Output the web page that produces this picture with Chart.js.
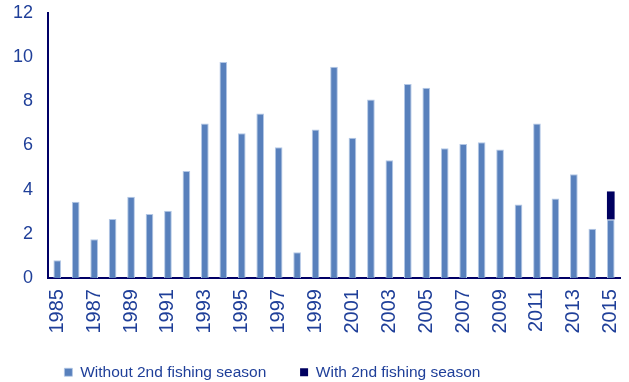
<!DOCTYPE html>
<html>
<head>
<meta charset="utf-8">
<script src="https://cdn.jsdelivr.net/npm/chart.js@4"></script>
<style>
  html, body { margin: 0; padding: 0; background: #fff; }
  #wrap { width: 629px; height: 382px; }
</style>
</head>
<body>
<div id="wrap"><canvas id="fishChart"></canvas></div>
<script>
const years = ['1985', '1986', '1987', '1988', '1989', '1990', '1991', '1992', '1993', '1994',
  '1995', '1996', '1997', '1998', '1999', '2000', '2001', '2002', '2003', '2004',
  '2005', '2006', '2007', '2008', '2009', '2010', '2011', '2012', '2013', '2014', '2015'];
const withoutSecond = [0.8, 3.45, 1.75, 2.67, 3.68, 2.9, 3.05, 4.85, 7.0, 9.78,
  6.55, 7.45, 5.92, 1.17, 6.72, 9.57, 6.35, 8.08, 5.33, 8.78,
  8.62, 5.88, 6.07, 6.15, 5.82, 3.33, 7.0, 3.6, 4.7, 2.23, 2.65];
const withSecond = [0, 0, 0, 0, 0, 0, 0, 0, 0, 0,
  0, 0, 0, 0, 0, 0, 0, 0, 0, 0,
  0, 0, 0, 0, 0, 0, 0, 0, 0, 0, 1.27];
const yTicks = [0, 2, 4, 6, 8, 10, 12];

const labelColor = '#1f3f99';
const axisColor = '#000066';

// legend sits left of centre in the original, pad the label texts with spaces
function legendLabels(chart) {
    const items = Chart.defaults.plugins.legend.labels.generateLabels(chart);
    items[0].text += '      ';
    items[1].text += ' '.repeat(17);
    return items;
}

const ctx = document.getElementById('fishChart').getContext('2d');
new Chart(ctx, {
    type: 'bar',
    data: {
        labels: years,
        datasets: [{
            label: 'Without 2nd fishing season',
            data: withoutSecond,
            backgroundColor: '#5880bc',
            borderColor: '#b4c8e6',
            borderWidth: { left: 1, right: 1, top: 1, bottom: 0 },
            borderSkipped: false,
            barPercentage: 0.8,
            categoryPercentage: 0.52
        }, {
            label: 'With 2nd fishing season',
            data: withSecond,
            backgroundColor: '#000060',
            borderWidth: 0,
            barPercentage: 0.8,
            categoryPercentage: 0.52
        }]
    },
    options: {
        responsive: true,
        maintainAspectRatio: false,
        animation: false,
        layout: {
            padding: { top: 13, right: 9, left: -2, bottom: -8 }
        },
        plugins: {
            title: {
                display: false,
            },
            tooltip: { enabled: false },
            legend: {
                position: 'bottom',
                labels: {
                    color: labelColor,
                    boxWidth: 8,
                    boxHeight: 8,
                    padding: 8,
                    font: { family: 'Liberation Sans', size: 15.5 },
                    generateLabels: legendLabels
                }
            }
        },
        scales: {
            y: {
                min: 0,
                max: 12,
                stacked: true,
                afterBuildTicks: axis => {
                    axis.ticks = yTicks.map(v => ({ value: v }));
                },
                afterFit: scale => {
                    scale.paddingTop = 0;
                    scale.paddingBottom = 0;
                },
                ticks: {
                    color: labelColor,
                    padding: 15,
                    font: { family: 'Liberation Sans', size: 18 }
                },
                grid: {
                    display: false,
                    drawTicks: false
                },
                border: {
                    display: true,
                    color: axisColor,
                    width: 2
                }
            },
            x: {
                stacked: true,
                afterFit: scale => {
                    scale.paddingLeft = 0;
                    scale.paddingRight = 0;
                    scale.height += 12;
                },
                ticks: {
                    color: labelColor,
                    autoSkip: false,
                    maxRotation: 90,
                    minRotation: 90,
                    padding: 11,
                    font: { family: 'Liberation Sans', size: 20 },
                    callback: function (value, index) {
                        return index % 2 === 0 ? years[index] : '';
                    }
                },
                grid: {
                    display: false,
                    drawTicks: false
                },
                border: {
                    display: true,
                    color: axisColor,
                    width: 2
                }
            }
        }
    }
});
</script>
</body>
</html>
